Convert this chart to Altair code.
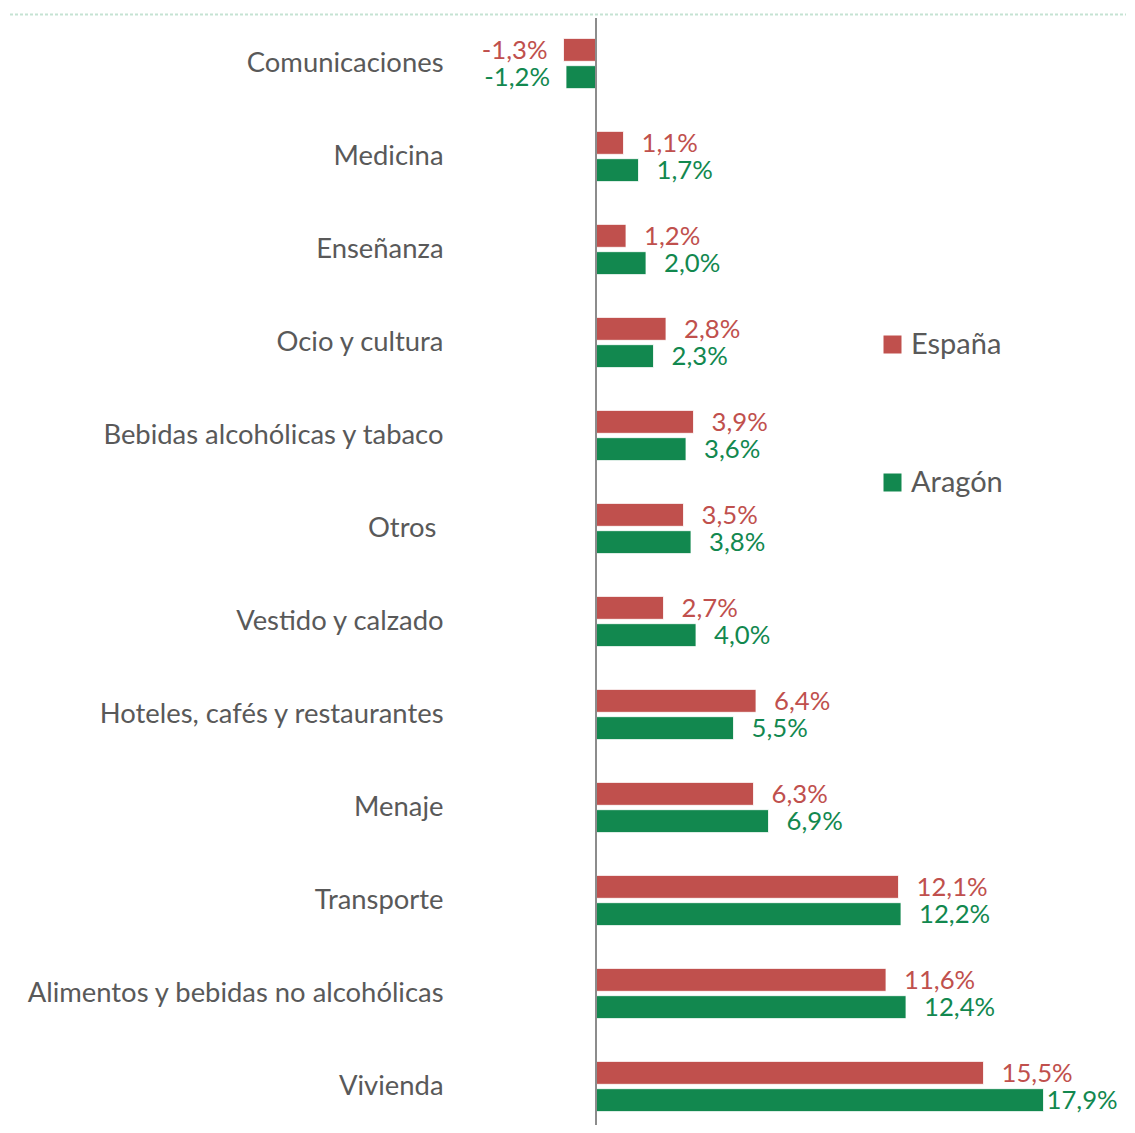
import altair as alt
import pandas as pd

categories = [
    "Comunicaciones", "Medicina", "Enseñanza", "Ocio y cultura",
    "Bebidas alcohólicas y tabaco", "Otros\u00a0\u2060", "Vestido y calzado",
    "Hoteles, cafés y restaurantes", "Menaje", "Transporte",
    "Alimentos y bebidas no alcohólicas", "Vivienda",
]
espana = [-1.3, 1.1, 1.2, 2.8, 3.9, 3.5, 2.7, 6.4, 6.3, 12.1, 11.6, 15.5]
aragon = [-1.2, 1.7, 2.0, 2.3, 3.6, 3.8, 4.0, 5.5, 6.9, 12.2, 12.4, 17.9]
series = ["España", "Aragón"]
colors = ["#C0504D", "#12884F"]

rows = []
for c, e, a in zip(categories, espana, aragon):
    rows.append({"cat": c, "serie": "España", "v": e})
    rows.append({"cat": c, "serie": "Aragón", "v": a})
df = pd.DataFrame(rows)
df["label"] = df["v"].map(lambda v: f"{v:.1f}%".replace(".", ","))

FONT = "Lato"

y_enc = alt.Y("cat:N", sort=categories,
              scale=alt.Scale(range=[0, 1116], paddingInner=0.46, paddingOuter=0.23),
              axis=alt.Axis(title=None, domain=False, ticks=False, labelPadding=9,
                            labelFontSize=27.4, labelColor="#595959", labelFont=FONT,
                            labelLimit=0))
yoff = alt.YOffset("serie:N", sort=series, scale=alt.Scale(paddingInner=0.16, paddingOuter=0))
xscale = alt.Scale(domain=[-5.76, 21.2], nice=False, zero=False)
color = alt.Color("serie:N", sort=series,
                  scale=alt.Scale(domain=series, range=colors),
                  legend=alt.Legend(title=None, orient="none", legendX=426, legendY=313,
                                    padding=0,
                                    symbolType="square", symbolSize=324, symbolStrokeWidth=0,
                                    labelFontSize=29, labelColor="#595959", labelFont=FONT,
                                    rowPadding=108, labelOffset=4))

base = alt.Chart(df)

bars = base.mark_bar(stroke="white", strokeWidth=0.8).encode(
    x=alt.X("v:Q", scale=xscale, axis=None),
    y=y_enc, yOffset=yoff, color=color,
)

text_color = alt.Color("serie:N", sort=series,
                       scale=alt.Scale(domain=series, range=colors), legend=None)

pos_text = base.transform_filter("datum.v >= 0").transform_calculate(
    lx="min(datum.v, 17.3)"
).mark_text(align="left", baseline="middle", dx=18, dy=1, fontSize=25.7, font=FONT).encode(
    x=alt.X("lx:Q", scale=xscale, axis=None),
    y=y_enc, yOffset=yoff, text="label:N", color=text_color,
)

neg_text = base.transform_filter("datum.v < 0").mark_text(
    align="right", baseline="middle", dx=-16, dy=1, fontSize=25.7, font=FONT).encode(
    x=alt.X("v:Q", scale=xscale, axis=None),
    y=y_enc, yOffset=yoff, text="label:N", color=text_color,
)

zero_line = alt.Chart(pd.DataFrame({"z": [0]})).mark_rule(color="#8C8C8C", strokeWidth=2).encode(
    x=alt.X("z:Q", scale=xscale, axis=None), y=alt.value(1), y2=alt.value(1116)
)

top_line = alt.Chart(pd.DataFrame({"z": [0]})).mark_rule(
    color="#C5E3D3", strokeWidth=2, strokeDash=[3, 2]).encode(
    x=alt.value(-447), x2=alt.value(678), y=alt.value(-2.5)
)

chart = alt.layer(top_line, bars, zero_line, pos_text, neg_text).properties(
    width=674, height=1108,
    autosize=alt.AutoSizeParams(type="none"),
    padding={"left": 444, "top": 9, "right": 0, "bottom": 0},
).configure_view(stroke=None).resolve_scale(color="shared")

chart.save("out.html", embed_options={"renderer": "svg", "actions": False})
